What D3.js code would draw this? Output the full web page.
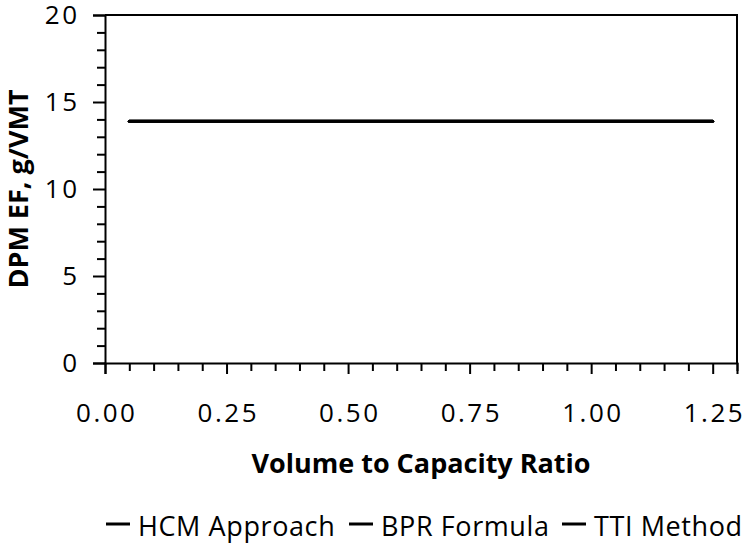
<!DOCTYPE html>
<html>
<head>
<meta charset="utf-8">
<script src="https://cdn.jsdelivr.net/npm/d3@7"></script>
<style>
  html, body { margin: 0; padding: 0; background: #fff; }
  svg { display: block; }
  text { font-family: "Open Sans", "Noto Sans", sans-serif; fill: #000; }
</style>
</head>
<body>
<svg id="chart" width="746" height="544"></svg>
<script>
// Volume-to-capacity ratios at which each method was evaluated
const vcRatio = [0.05, 0.10, 0.15, 0.20, 0.25, 0.30, 0.35, 0.40, 0.45, 0.50, 0.55, 0.60, 0.65,
                 0.70, 0.75, 0.80, 0.85, 0.90, 0.95, 1.00, 1.05, 1.10, 1.15, 1.20, 1.25];

// DPM emission factor (g/VMT) for each speed-estimation method
const hcmApproach = [13.9, 13.9, 13.9, 13.9, 13.9, 13.9, 13.9, 13.9, 13.9, 13.9, 13.9, 13.9, 13.9,
                     13.9, 13.9, 13.9, 13.9, 13.9, 13.9, 13.9, 13.9, 13.9, 13.9, 13.9, 13.9];
const bprFormula  = [13.9, 13.9, 13.9, 13.9, 13.9, 13.9, 13.9, 13.9, 13.9, 13.9, 13.9, 13.9, 13.9,
                     13.9, 13.9, 13.9, 13.9, 13.9, 13.9, 13.9, 13.9, 13.9, 13.9, 13.9, 13.9];
const ttiMethod   = [13.9, 13.9, 13.9, 13.9, 13.9, 13.9, 13.9, 13.9, 13.9, 13.9, 13.9, 13.9, 13.9,
                     13.9, 13.9, 13.9, 13.9, 13.9, 13.9, 13.9, 13.9, 13.9, 13.9, 13.9, 13.9];

const seriesNames = ["HCM Approach", "BPR Formula", "TTI Method"];
const xTickLabels = ["0.00", "0.25", "0.50", "0.75", "1.00", "1.25"];
const yTickLabels = ["0", "5", "10", "15", "20"];

const series = [
  { name: seriesNames[0], values: hcmApproach, color: "#000" },
  { name: seriesNames[1], values: bprFormula,  color: "#000" },
  { name: seriesNames[2], values: ttiMethod,   color: "#000" }
];

const svg = d3.select("#chart");
const plot = { left: 105, right: 737, top: 15, bottom: 363 };

// x axis runs to 1.30 with labelled steps of 0.25 and minor steps of 0.05
const x = d3.scaleLinear().domain([0, 1.30]).range([plot.left, plot.right]);
const y = d3.scaleLinear().domain([0, 20]).range([plot.bottom, plot.top]);

const xMajor = xTickLabels.map(Number);
const yMajor = yTickLabels.map(Number);
const xMinor = d3.range(0, 27).map(i => +(i * 0.05).toFixed(2))
  .filter(v => !xMajor.some(m => Math.abs(m - v) < 1e-9));
const yMinor = d3.range(0, 21).filter(v => !yMajor.includes(v));

// Frame: top and right edges
svg.append("path")
  .attr("d", `M${plot.left},${plot.top}H${plot.right}V${plot.bottom}`)
  .attr("fill", "none").attr("stroke", "#000").attr("stroke-width", 2);

const gx = svg.append("g").attr("transform", `translate(0,${plot.bottom})`);
gx.append("g")
  .call(d3.axisBottom(x).tickValues(xMinor).tickSize(8).tickFormat(""))
  .call(g => g.select(".domain").remove());
gx.append("g")
  .call(d3.axisBottom(x).tickValues(xMajor).tickSize(11).tickPadding(30)
          .tickFormat((d, i) => xTickLabels[i]))
  .selectAll(".tick text").attr("dx", "1.25");

const gy = svg.append("g").attr("transform", `translate(${plot.left},0)`);
gy.append("g")
  .call(d3.axisLeft(y).tickValues(yMinor).tickSize(8).tickFormat(""))
  .call(g => g.select(".domain").remove());
gy.append("g")
  .call(d3.axisLeft(y).tickValues(yMajor).tickSize(12).tickPadding(13.5)
          .tickFormat((d, i) => yTickLabels[i]));

svg.selectAll(".tick line, .domain").attr("stroke", "#000").attr("stroke-width", 2);
svg.selectAll(".tick text")
  .attr("fill", "#000")
  .style("font-size", "26px")
  .style("letter-spacing", "2.5px")
  .style("font-family", "'Open Sans', 'Noto Sans', sans-serif");

// Data lines
const line = d3.line().x((d, i) => x(vcRatio[i])).y(d => y(d));
svg.append("g").selectAll("path").data(series).join("path")
  .attr("d", s => line(s.values))
  .attr("fill", "none")
  .attr("stroke", s => s.color)
  .attr("stroke-width", 3)
  .attr("stroke-linecap", "round");

// Axis titles
svg.append("text")
  .attr("x", (plot.left + plot.right) / 2)
  .attr("y", 473)
  .attr("text-anchor", "middle")
  .style("font-size", "27px").attr("font-weight", "bold")
  .text("Volume to Capacity Ratio");

svg.append("text")
  .attr("transform", `translate(28,${(plot.top + plot.bottom) / 2}) rotate(-90)`)
  .attr("text-anchor", "middle")
  .style("font-size", "27px").attr("font-weight", "bold")
  .text("DPM EF, g/VMT");

// Legend
const legendX = [106, 349, 562];
const legend = svg.append("g").selectAll("g").data(series).join("g")
  .attr("transform", (d, i) => `translate(${legendX[i]},524)`);
legend.append("line")
  .attr("x1", 0).attr("x2", 24).attr("y1", 0).attr("y2", 0)
  .attr("stroke", d => d.color).attr("stroke-width", 3);
legend.append("text")
  .attr("x", 32).attr("y", 12)
  .style("font-size", "27px")
  .style("letter-spacing", "0.6px")
  .text(d => d.name);
</script>
</body>
</html>
